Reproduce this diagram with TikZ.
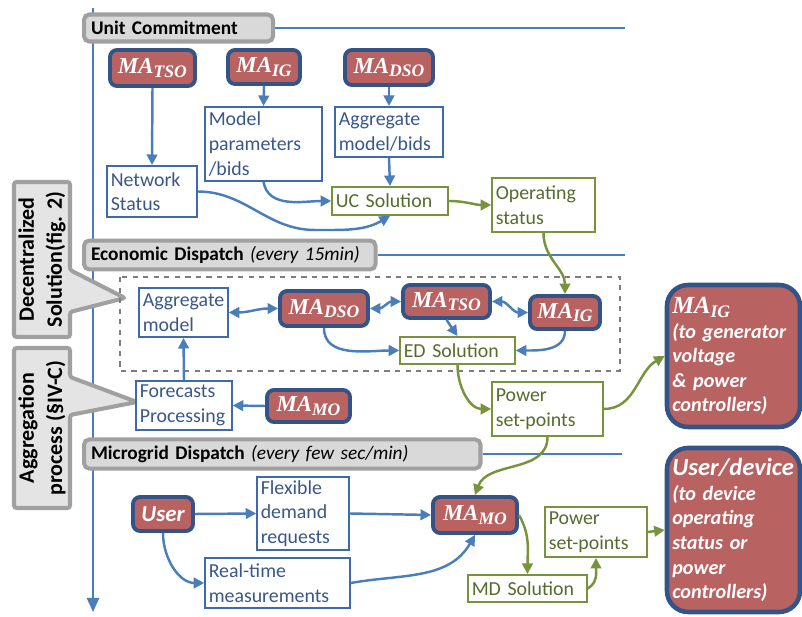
\documentclass[tikz,border=0pt]{standalone}
\usepackage{fontspec}
\setmainfont{Carlito}
\newfontfamily\mafont{Liberation Serif}
\usetikzlibrary{arrows.meta,positioning}

\definecolor{mared}{RGB}{185,98,98}
\definecolor{madark}{RGB}{52,84,135}
\definecolor{lnblue}{RGB}{74,126,187}
\definecolor{bxblue}{RGB}{62,106,170}
\definecolor{txblue}{RGB}{58,88,135}
\definecolor{lngreen}{RGB}{119,147,60}
\definecolor{txgreen}{RGB}{85,108,45}
\definecolor{hdgray}{RGB}{217,217,217}
\definecolor{hdline}{RGB}{160,160,160}
\definecolor{dashgray}{RGB}{125,125,125}

\newcommand{\MAsub}[1]{{\mafont\bfseries\itshape MA\raisebox{-0.35ex}{\fontsize{10}{10}\selectfont #1}}}

\tikzset{
  magent/.style={draw=madark, line width=2.2pt, fill=mared, rounded corners=4pt,
    text=white, font=\fontsize{13}{15}\selectfont, inner sep=1pt},
  bluebox/.style={draw=bxblue, line width=1.1pt, fill=white, text=txblue,
    align=left, inner xsep=2pt, inner ysep=1pt},
  greenbox/.style={draw=lngreen, line width=1.1pt, fill=white, text=txgreen,
    align=left, inner xsep=2pt, inner ysep=1pt},
  boxsize/.style 2 args={text width=#1, minimum height=#2},
  header/.style={draw=hdline, line width=2.3pt, fill=hdgray, rounded corners=3pt,
    anchor=west, align=left, inner xsep=4pt, minimum height=0.54cm,
    font=\bfseries\fontsize{11}{14}\selectfont},
  bigbox/.style={draw=madark, line width=2.6pt, fill=mared, rounded corners=12pt,
    text=white, align=left, inner xsep=3pt,
    font=\bfseries\itshape\fontsize{11.5}{14}\selectfont},
  callout/.style={draw=hdline, line width=2.3pt, fill=hdgray!70, rounded corners=1.5pt},
  sidetext/.style={rotate=90, align=center, font=\bfseries\fontsize{12.5}{16}\selectfont},
  axisline/.style={draw=lnblue, line width=1.1pt},
  bluelink/.style={-{Triangle[length=6pt,width=6pt]}, draw=lnblue, line width=1.4pt},
  greenlink/.style={-{Triangle[length=6pt,width=6pt]}, draw=lngreen, line width=1.4pt},
  twolink/.style={{Triangle[length=6pt,width=6pt]}-{Triangle[length=6pt,width=6pt]},
    draw=lnblue, line width=1.4pt}
}

\begin{document}
\begin{tikzpicture}[x=0.02cm, y=-0.02cm, font=\fontsize{11.3}{14}\selectfont]
    \useasboundingbox (0,0) rectangle (802,617);

    % time axis and level lines
    \coordinate (axTop) at (93,8);
    \coordinate (axBot) at (93,612);
    \draw[axisline, -{Triangle[length=8pt,width=7pt]}] (axTop) -- (axBot);
    \coordinate (ucEnd) at (625,28);
    \coordinate (edEnd) at (625,255);
    \coordinate (mdEnd) at (622,454);

    \node[header, text width=3.50cm] (ucHead) at (82,28) {Unit Commitment};
    \node[header, text width=5.55cm] (edHead) at (82,255)
        {Economic Dispatch \textnormal{\itshape (every 15min)}};
    \node[header, text width=7.65cm] (mdHead) at (82,454)
        {Microgrid Dispatch \textnormal{\itshape (every few sec/min)}};
    \draw[axisline] (ucHead.east) -- (ucEnd);
    \draw[axisline] (edHead.east) -- (edEnd);
    \draw[axisline] (mdHead.east) -- (mdEnd);

    % side callouts
    \draw[callout] (14,182) -- (70,182) -- (70,270) -- (125,298) -- (70,312)
        -- (70,337) -- (14,337) -- cycle;
    \node[sidetext] (decText) at (42,259.5) {Decentralized\\Solution(fig. 2)};
    \draw[callout] (14,348) -- (70,348) -- (70,377) -- (137,402) -- (70,415)
        -- (70,508) -- (14,508) -- cycle;
    \node[sidetext] (aggText) at (42,428) {Aggregation\\process (§IV-C)};

    % Unit commitment level
    \node[magent, minimum width=1.70cm, minimum height=0.72cm] (tsoUC) at (152.5,68) {\MAsub{TSO}};
    \node[magent, minimum width=1.44cm, minimum height=0.68cm] (igUC) at (264,67) {\MAsub{IG}};
    \node[magent, minimum width=1.76cm, minimum height=0.70cm] (dsoUC) at (389,67.5) {\MAsub{DSO}};
    \node[bluebox, boxsize={2.19cm}{1.48cm}] (params) at (263.5,144) {Model\\parameters\\/bids};
    \node[bluebox, boxsize={2.01cm}{1.00cm}] (aggBids) at (389,132) {Aggregate\\model/bids};
    \node[bluebox, boxsize={1.65cm}{1.02cm}] (netStat) at (152,191.5) {Network\\Status};
    \node[greenbox, boxsize={2.17cm}{0.56cm}] (ucSol) at (390,201) {UC Solution};
    \node[greenbox, boxsize={1.91cm}{1.08cm}] (opStat) at (543.5,205) {Operating\\status};
    \coordinate (ucLow) at (315,230);

    \draw[bluelink] (tsoUC.south) -- (netStat.north);
    \draw[bluelink] (igUC.south) -- (params.north);
    \draw[bluelink] (dsoUC.south) -- (aggBids.north);
    \draw[bluelink] (aggBids.south) -- (ucSol.north);
    \draw[bluelink] (params.south) to[out=-80,in=180] (ucSol.west);
    \draw[bluelink] (netStat.east) to[out=0,in=180] (ucLow) to[out=0,in=-150] (ucSol.south);
    \draw[greenlink] (ucSol.east) to[out=0,in=180] (opStat.west);

    % Economic dispatch level
    \draw[dashgray, dashed, line width=1.2pt] (120,277) rectangle (620,371);
    \node[bluebox, boxsize={1.63cm}{0.98cm}] (aggModel) at (183.5,312.5) {Aggregate\\model};
    \node[magent, minimum width=1.76cm, minimum height=0.70cm] (dsoED) at (324,308.5) {\MAsub{DSO}};
    \node[magent, minimum width=1.74cm, minimum height=0.66cm] (tsoED) at (446.5,301.5) {\MAsub{TSO}};
    \node[magent, minimum width=1.40cm, minimum height=0.66cm] (igED) at (565,312.5) {\MAsub{IG}};
    \node[greenbox, boxsize={2.15cm}{0.54cm}] (edSol) at (457.5,350.5) {ED Solution};
    \node[bluebox, boxsize={1.77cm}{0.98cm}] (fcast) at (184,405.5) {Forecasts\\Processing};
    \node[magent, minimum width=1.66cm, minimum height=0.64cm] (moED) at (308.5,406) {\MAsub{MO}};
    \node[greenbox, boxsize={2.07cm}{1.08cm}] (pspED) at (547.5,409) {Power\\set-points};
    \node[bigbox, text width=2.45cm, minimum height=2.84cm] (igBig) at (733.5,356)
        {{\fontsize{14}{16}\selectfont\MAsub{IG}}\\(to generator\\voltage\\\& power\\controllers)};

    \draw[greenlink] (opStat.south) to[out=-90,in=90] (igED.north);
    \draw[twolink] (aggModel.east) to[out=0,in=180] (dsoED.west);
    \draw[twolink] (dsoED.east) to[out=0,in=180] (tsoED.west);
    \draw[twolink] (tsoED.east) to[out=0,in=180] (igED.west);
    \draw[bluelink] (dsoED.south) to[out=-90,in=180] (edSol.west);
    \draw[bluelink] (tsoED.south) -- (edSol.north);
    \draw[bluelink] (igED.south) to[out=-90,in=0] (edSol.east);
    \draw[bluelink] (fcast.north) -- (aggModel.south);
    \draw[bluelink] (moED.west) -- (fcast.east);
    \draw[greenlink] (edSol.south) to[out=-90,in=180] (pspED.west);
    \draw[greenlink] (pspED.east) to[out=0,in=210] (igBig.west);

    % Microgrid dispatch level
    \node[magent, minimum width=1.20cm, minimum height=0.68cm,
        font=\bfseries\itshape\fontsize{13}{15}\selectfont] (user) at (163,514) {User};
    \node[bluebox, boxsize={1.69cm}{1.46cm}] (flex) at (303,513.5) {Flexible\\demand\\requests};
    \node[bluebox, boxsize={2.75cm}{1.00cm}] (rtm) at (277.5,583) {Real-time\\measurements};
    \node[magent, minimum width=1.68cm, minimum height=0.72cm] (moMD) at (475,515) {\MAsub{MO}};
    \node[greenbox, boxsize={2.23cm}{0.54cm}] (mdSol) at (527.5,588.5) {MD Solution};
    \node[greenbox, boxsize={1.89cm}{1.00cm}] (pspMD) at (596,532) {Power\\set-points};
    \node[bigbox, text width=2.45cm, minimum height=3.28cm] (userDev) at (733.5,530)
        {{\fontsize{14}{17}\selectfont User/device}\\(to device\\operating\\status or\\power\\controllers)};

    \draw[greenlink] (pspED.south) to[out=-90,in=70] (moMD.north);
    \draw[bluelink] (user.east) -- (flex.west);
    \draw[bluelink] (user.south) to[out=-90,in=180] (rtm.west);
    \draw[bluelink] (flex.east) -- (moMD.west);
    \draw[bluelink] (rtm.east) to[out=10,in=-120] (moMD.south);
    \draw[greenlink] (moMD.east) to[out=-60,in=90] (mdSol.north);
    \draw[greenlink] (mdSol.east) to[out=30,in=-90] (pspMD.south);
    \draw[greenlink] (pspMD.east) -- (userDev.west);
\end{tikzpicture}
\end{document}
